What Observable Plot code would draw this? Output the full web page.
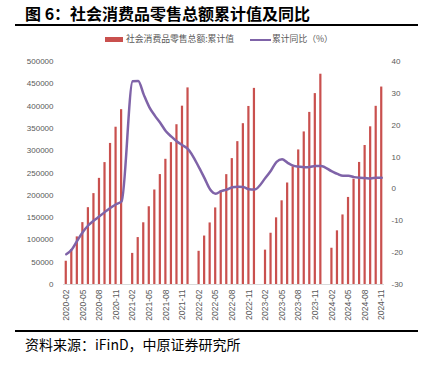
<!DOCTYPE html>
<html><head><meta charset="utf-8">
<script src="https://cdn.jsdelivr.net/npm/d3@7"></script>
<script src="https://cdn.jsdelivr.net/npm/@observablehq/plot@0.6"></script>
<style>
body{margin:0;background:#fff;width:430px;height:366px;position:relative;overflow:hidden;font-family:"Noto Sans CJK SC",sans-serif;}
#title{position:absolute;left:25px;top:3px;font-size:16px;font-weight:bold;line-height:20px;color:#000;white-space:nowrap;}
.rule{position:absolute;left:15px;width:403px;height:2.5px;background:#000;}
.leg{position:absolute;font-size:8.8px;color:#595959;line-height:12px;top:33px;white-space:nowrap;}
.sw{position:absolute;}
#chart{position:absolute;left:0;top:50px;}
#source{position:absolute;left:25px;top:335px;font-size:14px;line-height:18px;color:#000;white-space:nowrap;}
</style></head>
<body>
<div id="title">图 6：社会消费品零售总额累计值及同比</div>
<div class="rule" style="top:23.5px"></div>
<div class="sw" style="left:105px;top:37px;width:18px;height:5px;background:#C9504E"></div>
<div class="leg" style="left:126px">社会消费品零售总额:累计值</div>
<div class="sw" style="left:250px;top:38.5px;width:21px;height:2px;background:#7F63A8"></div>
<div class="leg" style="left:272px">累计同比（%）</div>
<div id="chart"></div>
<div class="rule" style="top:329.5px"></div>
<div id="source">资料来源：iFinD，中原证券研究所</div>
<script>
// data months (Jan merged into Feb in source data)
const months = [
 "2020-02","2020-03","2020-04","2020-05","2020-06","2020-07","2020-08","2020-09","2020-10","2020-11","2020-12",
 "2021-02","2021-03","2021-04","2021-05","2021-06","2021-07","2021-08","2021-09","2021-10","2021-11","2021-12",
 "2022-02","2022-03","2022-04","2022-05","2022-06","2022-07","2022-08","2022-09","2022-10","2022-11","2022-12",
 "2023-02","2023-03","2023-04","2023-05","2023-06","2023-07","2023-08","2023-09","2023-10","2023-11","2023-12",
 "2024-02","2024-03","2024-04","2024-05","2024-06","2024-07","2024-08","2024-09","2024-10","2024-11"];
// 社会消费品零售总额:累计值 (亿元)
const retailSales = [
 52130,78580,106758,138730,172256,203793,237964,273324,316289,352648,391981,
 69737,105221,138373,174319,211904,246474,280731,318057,358251,399828,440823,
 74426,108659,138018,171689,210432,246324,282260,320305,360575,399190,439733,
 77067,114922,149483,187636,227588,263956,301727,342107,385880,428023,471495,
 81307,120327,155973,195211,235969,273672,311637,353564,399514,442723];
// 累计同比 (%)
const yoyGrowth = [
 -20.5,-19.0,-16.2,-13.5,-11.4,-9.9,-8.6,-7.2,-5.9,-4.8,-3.9,
 33.8,33.9,29.6,25.7,23.0,20.7,18.1,16.4,14.9,13.7,12.5,
 6.7,3.3,-0.2,-1.5,-0.7,-0.2,0.5,0.7,0.6,-0.1,-0.2,
 3.5,5.8,8.5,9.3,8.2,7.3,7.0,6.8,6.9,7.2,7.2,
 5.5,4.7,4.1,4.1,3.7,3.5,3.4,3.3,3.5,3.5];
const xTickLabels = ["2020-02","2020-05","2020-08","2020-11","2021-02","2021-05","2021-08","2021-11",
 "2022-02","2022-05","2022-08","2022-11","2023-02","2023-05","2023-08","2023-11",
 "2024-02","2024-05","2024-08","2024-11"];
const leftTicks = [0,50000,100000,150000,200000,250000,300000,350000,400000,450000,500000];
const rightTicks = [-30,-20,-10,0,10,20,30,40];

// full monthly band domain (January slots left empty)
const xDomain = [];
for (let y = 2020; y <= 2024; y++) for (let m = 1; m <= 12; m++) {
  const k = `${y}-${String(m).padStart(2,"0")}`;
  if (k >= "2020-02" && k <= "2024-11") xDomain.push(k);
}

const lMax = leftTicks[leftTicks.length-1];
const rMin = rightTicks[0], rMax = rightTicks[rightTicks.length-1];
const toLeft = v => (v - rMin) / (rMax - rMin) * lMax;
const fromLeft = y => Math.round(y / lMax * (rMax - rMin) + rMin);

const salesData = months.map((m,i) => ({month:m, value:retailSales[i]}));
const yoyData = months.map((m,i) => ({month:m, value:yoyGrowth[i]}));

const chart = Plot.plot({
  width:430, height:275,
  marginTop:11, marginBottom:41, marginLeft:63, marginRight:46,
  style:{fontFamily:"'Liberation Sans', Arial, sans-serif", color:"#595959", background:"#fff", overflow:"visible"},
  x:{type:"band", domain:xDomain, paddingInner:0.6, paddingOuter:0.3},
  y:{domain:[0,lMax]},
  marks:[
    Plot.barY(salesData, {x:"month", y:"value", fill:"#C9504E"}),
    Plot.ruleY([0], {stroke:"#d9d9d9", strokeWidth:1}),
    Plot.line(yoyData, {x:"month", y:d => toLeft(d.value), stroke:"#7F63A8", strokeWidth:2.5, curve:"monotone-x"}),
    Plot.axisY(leftTicks, {anchor:"left", tickSize:0, tickPadding:10, fontSize:8, label:null, tickFormat:d => String(d)}),
    Plot.axisY(rightTicks.map(toLeft), {anchor:"right", tickSize:0, tickPadding:7, fontSize:8, label:null, tickFormat:d => String(fromLeft(d))}),
    Plot.axisX(xTickLabels, {tickRotate:-90, tickSize:0, tickPadding:5, fontSize:8.5, label:null})
  ]
});
document.getElementById("chart").appendChild(chart);
</script>
</body></html>
